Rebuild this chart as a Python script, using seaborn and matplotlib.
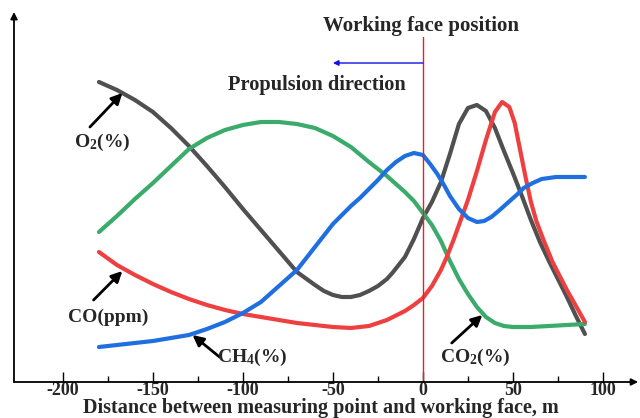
import matplotlib
matplotlib.use("Agg")
import matplotlib.pyplot as plt
import seaborn as sns

# ---- data (relative units) ----
o2_x = [-180, -170, -160, -150, -140, -130, -120, -110, -100, -90, -80, -70, -60, -55, -50, -45, -40, -35, -30, -25, -20, -17, -10, -5, 0, 5, 10, 15, 20, 25, 30, 35, 40, 45, 50, 55, 60, 65, 70, 75, 80, 85, 90]
o2_y = [300, 292, 282, 270, 254, 236, 216, 195, 173, 152, 131, 110, 97, 91, 87, 85, 85, 87, 91, 96, 103, 109, 125, 143, 164, 180, 200, 228, 258, 274, 277, 271, 254, 231, 209, 186, 162, 140, 121, 103, 85, 66, 48]

co2_x = [-180, -170, -160, -150, -140, -130, -120, -110, -100, -90, -80, -70, -60, -50, -40, -30, -20, -10, -5, 0, 5, 10, 15, 20, 25, 30, 35, 40, 45, 50, 60, 70, 80, 90]
co2_y = [150, 166, 183, 199, 216, 233, 244, 252, 257, 260, 260, 258, 254, 246, 235, 220, 206, 190, 181, 169, 157, 141, 121, 103, 88, 75, 65, 59, 56, 55, 55, 56, 57, 58]

co_x = [-180, -170, -160, -150, -140, -130, -120, -110, -100, -90, -80, -70, -60, -50, -40, -30, -20, -10, -5, 0, 5, 10, 13, 17, 20, 25, 30, 35, 40, 44, 48, 51, 54, 57, 60, 63, 67, 72, 80, 85, 90]
co_y = [130, 117, 107, 98, 90, 83, 77, 72, 68, 65, 62, 59, 57, 55, 54, 56, 62, 71, 77, 84, 96, 112, 124, 142, 157, 182, 211, 242, 270, 280, 275, 259, 232, 205, 180, 161, 142, 120, 92, 76, 60]

ch4_x = [-180, -170, -160, -150, -140, -130, -120, -110, -100, -90, -80, -70, -60, -50, -40, -35, -30, -25, -20, -15, -10, -5, 0, 4, 8, 12, 15, 20, 25, 30, 34, 38, 42, 47, 52, 56, 61, 66, 74, 82, 90]
ch4_y = [35, 37, 39, 41, 44, 47, 53, 60, 69, 80, 96, 112, 135, 158, 176, 184, 193, 202, 212, 220, 226, 229, 227, 218, 208, 196, 186, 173, 164, 160, 161, 165, 171, 179, 187, 194, 199, 203, 205, 205, 205]

xticks = [-200, -150, -100, -50, 0, 50, 100]
minor_ticks = [-175, -125, -75, -25, 25, 75]

sns.set_theme(style="white")
plt.rcParams['font.family'] = ['Liberation Serif', 'DejaVu Serif']
plt.rcParams['font.weight'] = 'bold'
plt.rcParams['mathtext.fontset'] = 'custom'
plt.rcParams['mathtext.rm'] = 'Liberation Serif:bold'
plt.rcParams['mathtext.it'] = 'Liberation Serif:bold'
plt.rcParams['mathtext.bf'] = 'Liberation Serif:bold'
plt.rcParams['mathtext.default'] = 'rm'

W, H = 640, 418
fig = plt.figure(figsize=(6.4, 4.18), dpi=100)
ax = fig.add_axes([14 / W, (H - 382) / H, 626 / W, 382 / H])

lw = 3.0
sns.lineplot(x=o2_x, y=o2_y, color='#505050', lw=lw, ax=ax, sort=False)
sns.lineplot(x=co2_x, y=co2_y, color='#3aab6b', lw=lw, ax=ax, sort=False)
sns.lineplot(x=co_x, y=co_y, color='#ee4040', lw=lw, ax=ax, sort=False)
sns.lineplot(x=ch4_x, y=ch4_y, color='#1f6fe0', lw=lw, ax=ax, sort=False)

ax.set_xlim(-227.2, 120.6)
ax.set_ylim(0, 382)

for s in ax.spines.values():
    s.set_visible(False)

# axes with arrows
ax.annotate('', xy=(0.997, 0), xytext=(0, 0), xycoords='axes fraction',
            arrowprops=dict(arrowstyle='-|>', lw=1.3, color='black', mutation_scale=10,
                            shrinkA=0, shrinkB=0))
ax.annotate('', xy=(0, (382 - 12) / 382), xytext=(0, 0), xycoords='axes fraction',
            arrowprops=dict(arrowstyle='-|>', lw=1.3, color='black', mutation_scale=10,
                            shrinkA=0, shrinkB=0))

ax.set_xticks(xticks)
ax.set_xticks(minor_ticks, minor=True)
ax.set_xticklabels([str(t) for t in xticks], fontsize=13, fontweight='bold')
ax.set_yticks([])
ax.tick_params(axis='x', which='major', direction='in', length=7, width=1, color='black', pad=0, bottom=True)
ax.tick_params(axis='x', which='minor', direction='in', length=4, width=1, color='black', bottom=True)
fig.text(320.5 / W, (H - 413) / H, 'Distance between measuring point and working face, m',
         ha='center', va='baseline', fontsize=14.5, fontweight='bold')

# working face line
ax.plot([0, 0], [0, 382 - 37], color='#e8202a', lw=1.0)
ax.text(-1, 382 - 31, 'Working face position', ha='center', va='baseline', fontsize=15, fontweight='bold')
ax.annotate('', xy=(-50, 382 - 63), xytext=(0, 382 - 63),
            arrowprops=dict(arrowstyle='-|>', lw=1.0, color='#1010e0', mutation_scale=8,
                            shrinkA=0, shrinkB=0))
ax.text((317 - 423) / 1.8, 382 - 90, 'Propulsion direction', ha='center', va='baseline',
        fontsize=14.7, fontweight='bold')

# curve labels
arrow_kw = dict(arrowstyle='-|>', lw=2.0, color='black', mutation_scale=16, shrinkA=0, shrinkB=0)
ax.annotate('', xy=(-167, 289), xytext=(-185, 255), arrowprops=arrow_kw)
ax.text(-178, 382 - 142, 'O$_2$(%)', ha='center', va='center', fontsize=14, fontweight='bold')
ax.annotate('', xy=(-167, 111), xytext=(-183, 82), arrowprops=arrow_kw)
ax.text(-175, 382 - 317, 'CO(ppm)', ha='center', va='center', fontsize=14, fontweight='bold')
ax.annotate('', xy=(-128, 47), xytext=(-113, 25), arrowprops=arrow_kw)
ax.text(-95, 382 - 357, 'CH$_4$(%)', ha='center', va='center', fontsize=14, fontweight='bold')
ax.annotate('', xy=(33, 67), xytext=(16, 39), arrowprops=arrow_kw)
ax.text(29, 382 - 357, 'CO$_2$(%)', ha='center', va='center', fontsize=14, fontweight='bold')

fig.savefig('out.png', dpi=100)
